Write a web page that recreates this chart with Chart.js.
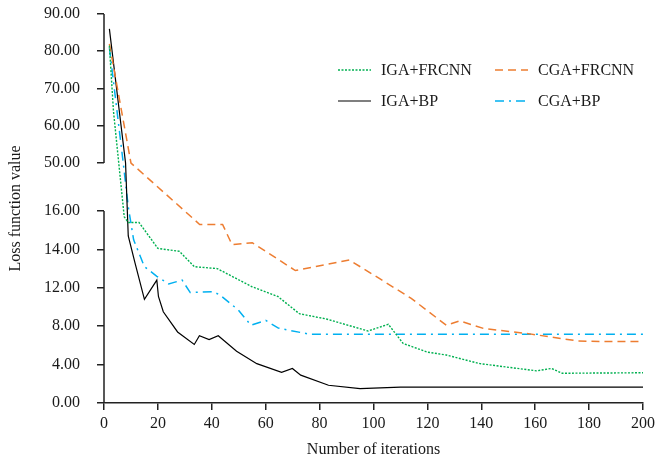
<!DOCTYPE html>
<html>
<head>
<meta charset="utf-8">
<script src="https://cdn.jsdelivr.net/npm/chart.js@4.4.1/dist/chart.umd.min.js"></script>
<style>
    html, body { margin: 0; padding: 0; background: #fff; }
    #lossChart { display: block; }
</style>
</head>
<body>
<canvas id="lossChart" width="660" height="464"></canvas>
<script>
// Tick labels of the broken y axis and the slot each one sits at
const yTickValues = [0, 4, 8, 12, 14, 16, 50, 60, 70, 80, 90];
const yTickSlots = [0, 1, 2, 3, 4, 5, 6.25, 7.22, 8.19, 9.16, 10.13];
const lowerBreak = 5;     // slot of 16.00
const upperBreak = 6.25;  // slot of 50.00

// Series (iteration, loss)
const igaFrcnnX = [2, 3.5, 7.5, 9, 13, 20, 28, 33.5, 42, 55, 64.5, 72.5, 82.5, 98, 105.5, 111, 120, 127, 139.5, 160.5, 166, 170, 200];
const igaFrcnnY = [81.5, 64, 15.7, 15.4, 15.4, 14.05, 13.9, 13.1, 13.0, 12.05, 11.1, 9.3, 8.75, 7.5, 8.2, 6.2, 5.3, 5.0, 4.1, 3.35, 3.6, 3.1, 3.15];

const cgaFrcnnX = [2, 10, 35.5, 44, 47.5, 55, 71, 91, 102, 114, 127, 132, 141, 158, 176, 184, 200];
const cgaFrcnnY = [82, 50, 15.3, 15.3, 14.25, 14.35, 12.9, 13.45, 12.5, 10.9, 8.1, 8.55, 7.75, 7.2, 6.45, 6.4, 6.4];

const igaBpX = [2, 8, 9, 11.5, 15, 19.6, 20.2, 22, 27.3, 33.5, 35.4, 39, 42.4, 49.2, 56.7, 65.9, 69.9, 73, 83.3, 95, 110, 200];
const igaBpY = [86, 50, 14.7, 13.3, 10.8, 12.4, 11.1, 9.5, 7.4, 6.1, 7.0, 6.6, 7.0, 5.4, 4.1, 3.2, 3.6, 2.9, 1.85, 1.5, 1.65, 1.65];

const cgaBpX = [2, 7.2, 9, 11, 15, 19.6, 24, 29, 32, 40.5, 43, 49.8, 54.5, 60, 64.7, 76.5, 200];
const cgaBpY = [81, 49, 19, 14.5, 13.1, 12.6, 12.2, 12.4, 11.5, 11.6, 11.25, 9.7, 8.1, 8.6, 7.8, 7.15, 7.15];

const FONT = "'Liberation Serif', 'Times New Roman', serif";
const TEXT_COLOR = '#1a1a1a';
const AXIS_COLOR = '#222';

// map a loss value onto the broken axis (piecewise between tick labels)
function toSlot(v) {
    for (let i = 1; i < yTickValues.length; i++) {
        if (v <= yTickValues[i]) {
            const t = (v - yTickValues[i - 1]) / (yTickValues[i] - yTickValues[i - 1]);
            return yTickSlots[i - 1] + t * (yTickSlots[i] - yTickSlots[i - 1]);
        }
    }
    return yTickSlots[yTickSlots.length - 1];
}

function makePoints(xs, ys) {
    return xs.map((x, i) => ({ x: x, y: toSlot(ys[i]), loss: ys[i] }));
}

// y axis line with a gap between 16.00 and 50.00
const brokenAxis = {
    id: 'brokenAxis',
    afterDatasetsDraw(chart) {
        const { ctx, chartArea, scales } = chart;
        const y = scales.y;
        const x = chartArea.left;
        ctx.save();
        ctx.strokeStyle = AXIS_COLOR;
        ctx.lineWidth = 1.5;
        ctx.beginPath();
        ctx.moveTo(x, y.getPixelForValue(0));
        ctx.lineTo(x, y.getPixelForValue(lowerBreak));
        ctx.moveTo(x, y.getPixelForValue(upperBreak));
        ctx.lineTo(x, y.getPixelForValue(yTickSlots[yTickSlots.length - 1]));
        ctx.stroke();
        ctx.restore();
    }
};

// two-column legend inside the plot
const gridLegend = {
    id: 'gridLegend',
    afterDraw(chart) {
        const ctx = chart.ctx;
        const cols = [338, 495];
        const rows = [70, 101];
        ctx.save();
        chart.data.datasets.forEach((ds, k) => {
            const lx = cols[k % 2];
            const ly = rows[Math.floor(k / 2)];
            ctx.strokeStyle = ds.borderColor;
            ctx.lineWidth = ds.borderWidth;
            ctx.setLineDash(ds.borderDash || []);
            ctx.beginPath();
            ctx.moveTo(lx, ly);
            ctx.lineTo(lx + 33, ly);
            ctx.stroke();
            ctx.setLineDash([]);
            ctx.fillStyle = TEXT_COLOR;
            ctx.font = '16px ' + FONT;
            ctx.textAlign = 'left';
            ctx.textBaseline = 'middle';
            ctx.fillText(ds.label, lx + 43, ly + 1);
        });
        ctx.restore();
    }
};

const ctx = document.getElementById('lossChart').getContext('2d');
const lossChart = new Chart(ctx, {
    type: 'line',
    data: {
        datasets: [{
            label: 'IGA+FRCNN',
            data: makePoints(igaFrcnnX, igaFrcnnY),
            borderColor: '#00b050',
            borderWidth: 1.4,
            borderDash: [2, 1.5]
        }, {
            label: 'CGA+FRCNN',
            data: makePoints(cgaFrcnnX, cgaFrcnnY),
            borderColor: '#ed7d31',
            borderWidth: 1.5,
            borderDash: [8, 5]
        }, {
            label: 'IGA+BP',
            data: makePoints(igaBpX, igaBpY),
            borderColor: '#000000',
            borderWidth: 1.2
        }, {
            label: 'CGA+BP',
            data: makePoints(cgaBpX, cgaBpY),
            borderColor: '#00b0f0',
            borderWidth: 1.5,
            borderDash: [9, 5, 2, 5]
        }]
    },
    options: {
        responsive: false,
        animation: false,
        layout: { padding: { top: 14, right: 17, bottom: 0, left: 0 } },
        elements: {
            point: { radius: 0, hoverRadius: 0 },
            line: { tension: 0, fill: false }
        },
        plugins: {
            legend: { display: false },
            tooltip: { enabled: false }
        },
        scales: {
            x: {
                type: 'linear',
                min: 0,
                max: 200,
                ticks: {
                    stepSize: 20,
                    padding: 4,
                    color: TEXT_COLOR,
                    font: { family: FONT, size: 16 },
                    maxRotation: 0
                },
                grid: {
                    drawOnChartArea: false,
                    tickLength: 7,
                    color: AXIS_COLOR,
                    lineWidth: 1.5
                },
                border: { display: true, color: AXIS_COLOR, width: 1.5 },
                title: {
                    display: true,
                    text: 'Number of iterations',
                    color: TEXT_COLOR,
                    font: { family: FONT, size: 16 },
                    padding: { top: 0, bottom: 5 }
                },
                afterFit: (scale) => { scale.height = 61; }
            },
            y: {
                type: 'linear',
                min: 0,
                max: yTickSlots[yTickSlots.length - 1],
                afterBuildTicks: (scale) => {
                    scale.ticks = yTickSlots.map(v => ({ value: v }));
                },
                ticks: {
                    autoSkip: false,
                    padding: 17,
                    color: TEXT_COLOR,
                    font: { family: FONT, size: 16 },
                    callback: (value) => {
                        const i = yTickSlots.indexOf(value);
                        return i >= 0 ? yTickValues[i].toFixed(2) : '';
                    }
                },
                grid: {
                    drawOnChartArea: false,
                    tickLength: 7,
                    color: AXIS_COLOR,
                    lineWidth: 1.5
                },
                border: { display: false },
                title: {
                    display: true,
                    text: 'Loss function value',
                    color: TEXT_COLOR,
                    font: { family: FONT, size: 16 },
                    padding: { top: 6, bottom: 0 }
                },
                afterFit: (scale) => {
                    scale.width = 104;
                    // label padding would otherwise push the plot top down
                    scale.paddingTop = 0;
                    scale.paddingBottom = 0;
                }
            }
        }
    },
    plugins: [brokenAxis, gridLegend]
});
</script>
</body>
</html>
